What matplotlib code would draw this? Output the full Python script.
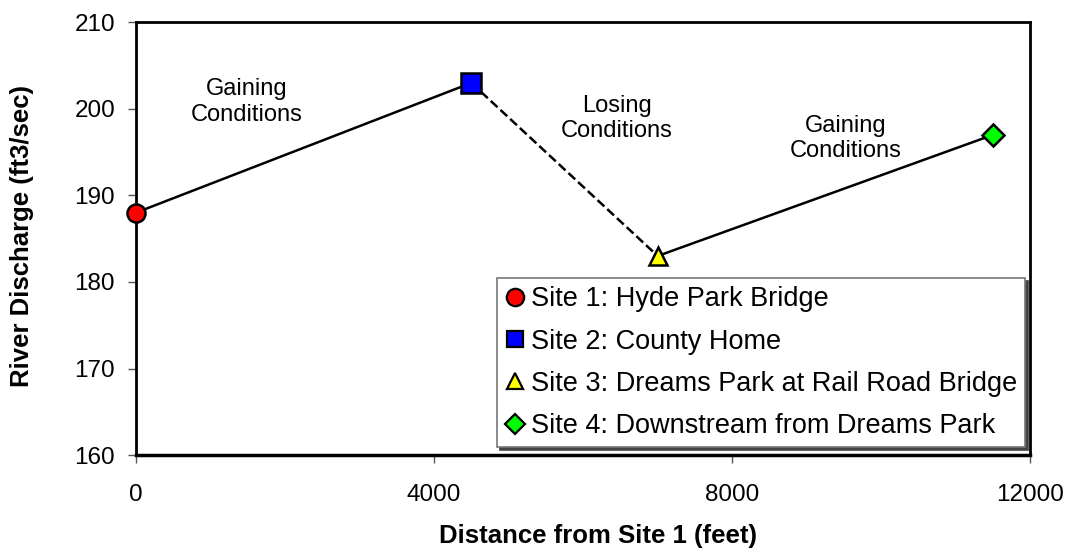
import matplotlib
matplotlib.use("Agg")
import matplotlib.pyplot as plt

plt.rcParams['font.family'] = ['Liberation Sans', 'DejaVu Sans']

# data
distance = [0, 4500, 7000, 11500]
discharge = [188, 203, 183, 197]
site_names = ["Site 1: Hyde Park Bridge",
              "Site 2: County Home",
              "Site 3: Dreams Park at Rail Road Bridge",
              "Site 4: Downstream from Dreams Park"]
site_markers = ["o", "s", "^", "D"]
site_colors = ["#ff0000", "#0000ff", "#ffff00", "#00ff00"]
site_sizes = [13, 14, 13.5, 11]
seg_styles = ["-", "--", "-"]

notes = ["Gaining\nConditions", "Losing\nConditions", "Gaining\nConditions"]
note_x = [1490, 6450, 9520]
note_y = [200.8, 198.9, 196.6]

fig = plt.figure(figsize=(10.7, 5.57), dpi=100)
ax = fig.add_axes([0.127, 0.183, 0.836, 0.777])

# line segments between sites
for i in range(len(distance) - 1):
    ax.plot(distance[i:i + 2], discharge[i:i + 2], color="black",
            linestyle=seg_styles[i], linewidth=1.8, zorder=2)

# site markers
for i in range(len(distance)):
    ax.plot(distance[i], discharge[i], linestyle="none", marker=site_markers[i],
            markersize=site_sizes[i], markerfacecolor=site_colors[i],
            markeredgecolor="black", markeredgewidth=1.8,
            label=site_names[i], zorder=3, clip_on=False)

for t, x, y in zip(notes, note_x, note_y):
    ax.text(x, y, t, ha="center", va="center", fontsize=17, linespacing=1.2)

ax.set_xlim(0, 12000)
ax.set_ylim(160, 210)
ax.set_xticks([0, 4000, 8000, 12000])
ax.set_yticks([160, 170, 180, 190, 200, 210])
ax.tick_params(labelsize=17.5, direction="out", length=6, width=1, color="#555555")
ax.tick_params(axis="x", pad=15)
ax.tick_params(axis="y", pad=9)
for s in ax.spines.values():
    s.set_linewidth(2)
    s.set_color("black")
ax.spines["bottom"].set_linewidth(2.5)

ax.set_xlabel("Distance from Site 1 (feet)", fontsize=18.5, fontweight="bold")
ax.set_ylabel("River Discharge (ft3/sec)", fontsize=18.5, fontweight="bold")
ax.xaxis.label.set_verticalalignment("center")
ax.yaxis.label.set_verticalalignment("center")
ax.xaxis.set_label_coords(0.517, -0.187)
ax.yaxis.set_label_coords(-0.1275, 0.506)

leg = ax.legend(loc="lower right", bbox_to_anchor=(0.9944, 0.018), fontsize=19.5,
                frameon=True, fancybox=False, framealpha=1,
                shadow={"color": "#444444", "alpha": 1},
                handlelength=0.7, handletextpad=0.25, borderpad=0.3,
                labelspacing=0.6, borderaxespad=0)
leg.get_frame().set_edgecolor("#777777")
leg.get_frame().set_linewidth(1.2)
for h, m in zip(leg.legend_handles, [12.5, 12, 12, 10]):
    h.set_markersize(m)
    h.set_markeredgewidth(1.6)

fig.savefig("out.png", dpi=100)
